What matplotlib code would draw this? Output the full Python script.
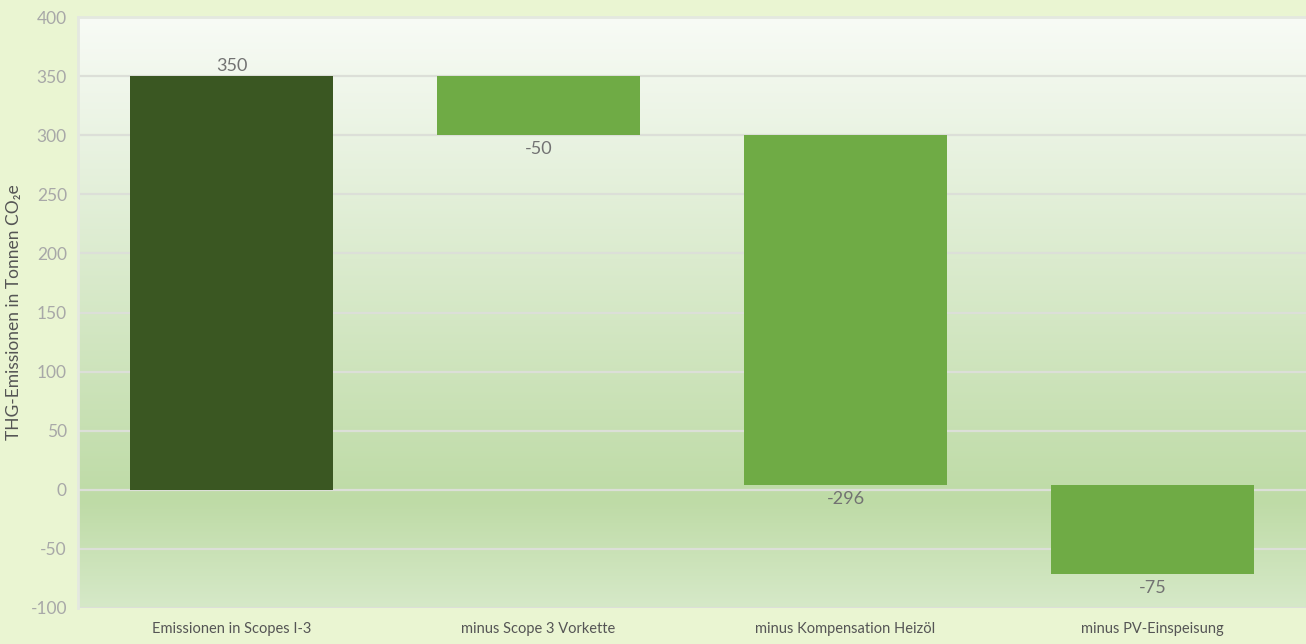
import numpy as np
import matplotlib
matplotlib.use("Agg")
import matplotlib.pyplot as plt
from matplotlib.colors import LinearSegmentedColormap

categories = ["Emissionen in Scopes I-3", "minus Scope 3 Vorkette",
              "minus Kompensation Heizöl", "minus PV-Einspeisung"]
values = [350, -50, -296, -75]
labels = ["350", "-50", "-296", "-75"]
yticks = [-100, -50, 0, 50, 100, 150, 200, 250, 300, 350, 400]

plt.rcParams['font.family'] = ['Lato', 'DejaVu Sans']

fig = plt.figure(figsize=(13.06, 6.44), dpi=100, facecolor='#eaf5d2')
ax = fig.add_axes([78/1306, 36/644, 1 - 78/1306, (608-17)/644])
ax.set_facecolor('none')

# gradient background (white at top -> green near zero -> lighter at bottom)
cmap = LinearSegmentedColormap.from_list('bg', [(0, '#f8fbf6'), (0.82, '#bedba6'), (1.0, '#d6e9c8')])
grad = np.linspace(0, 1, 256).reshape(-1, 1)
ax.imshow(grad, aspect='auto', cmap=cmap, origin='upper',
          extent=(-0.5, 3.5, -100, 400), zorder=0)

# waterfall
bottoms, heights = [], []
run = 0
for i, v in enumerate(values):
    if i == 0:
        bottoms.append(0); heights.append(v); run = v
    else:
        bottoms.append(run + v); heights.append(-v); run += v
colors = ['#3a5722'] + ['#6fab45'] * (len(values) - 1)
x = np.arange(len(values))
ax.bar(x, heights, bottom=bottoms, width=0.66, color=colors, zorder=3)

for i, v in enumerate(values):
    if v >= 0:
        ax.text(i, bottoms[i] + heights[i] + 2, labels[i], ha='center', va='bottom',
                fontsize=13, color='#727272', zorder=4)
    else:
        ax.text(i, bottoms[i] - 5, labels[i], ha='center', va='top',
                fontsize=13, color='#727272', zorder=4)

ax.set_xlim(-0.5, 3.5)
ax.set_ylim(-100, 400)
ax.set_yticks(yticks)
ax.set_yticklabels([str(t) for t in yticks], fontsize=12.5, color='#a8a8a8')
ax.grid(axis='y', color='#dcdfd8', linewidth=1.6, zorder=1)
ax.set_axisbelow(True)
ax.set_xticks(x)
ax.set_xticklabels(categories, fontsize=10.5, color='#555555')
ax.tick_params(length=0, pad=10)
ax.tick_params(axis='y', pad=8)
for s in ['right', 'bottom']:
    ax.spines[s].set_visible(False)
for s in ['left', 'top']:
    ax.spines[s].set_color('#e4e8e0')
    ax.spines[s].set_linewidth(2)
ax.set_ylabel('THG-Emissionen in Tonnen CO₂e', fontsize=12.5, color='#555555', labelpad=6)

fig.savefig('out.png', dpi=100, facecolor=fig.get_facecolor())
